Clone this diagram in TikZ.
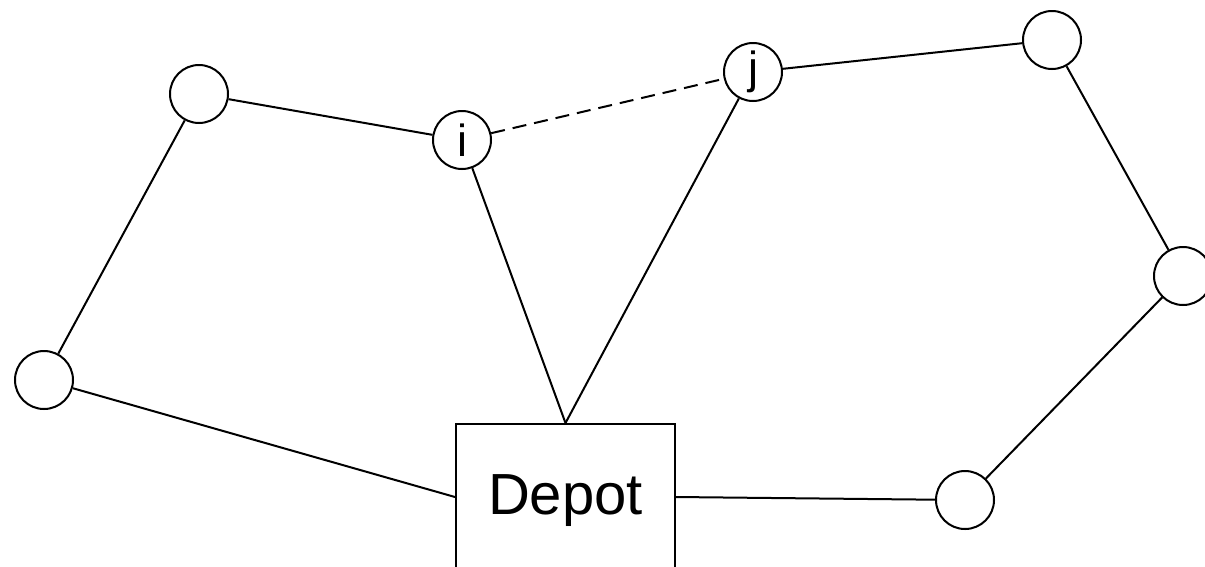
\documentclass[tikz,border=0pt]{standalone}
\usepackage{fontspec}
\setmainfont{Liberation Sans}
\usepackage{tikz}
\usetikzlibrary{
  positioning,  % relative placement
  calc          % calculations
}
\def\mycitysize{58pt}
\tikzset{
  my city/.style={
    draw,
    circle,
    minimum size=\mycitysize,
    inner sep=0pt,
    font=\fontsize{45}{48}\selectfont
  },
  my depot/.style={
    draw,
    rectangle,
    minimum width=219pt,
    minimum height=146pt,
    inner sep=0pt,
    text depth=5pt,
    font=\fontsize{58}{60}\selectfont
  },
  my dashed/.style={
    dash pattern=on 14pt off 8pt
  },
  route/.style={
    x=1pt,
    y=-1pt,
    line width=2pt
  }
}

\begin{document}
\begin{tikzpicture}[route]
\useasboundingbox (0,0) rectangle (1205,566);
\node[my city]  (1) at (44,380)   {};
\node[my city]  (2) at (199,94)   {};
\node[my city]  (i) at (462,140)  {i};
\node[my city]  (j) at (753,72)   {j};
\node[my city]  (3) at (1052,40)  {};
\node[my city]  (4) at (1183,276) {};
\node[my city]  (5) at (965,500)  {};
\node[my depot] (d) at (565.5,497) {Depot};
\path (1) edge           (2)
          edge           (d.west)
      (2) edge           (i)
      (i) edge[my dashed] (j)
          edge           (d.north)
      (j) edge           (3)
          edge           (d.north)
      (3) edge           (4)
      (4) edge           (5)
      (5) edge           (d.east);
\end{tikzpicture}
\end{document}
